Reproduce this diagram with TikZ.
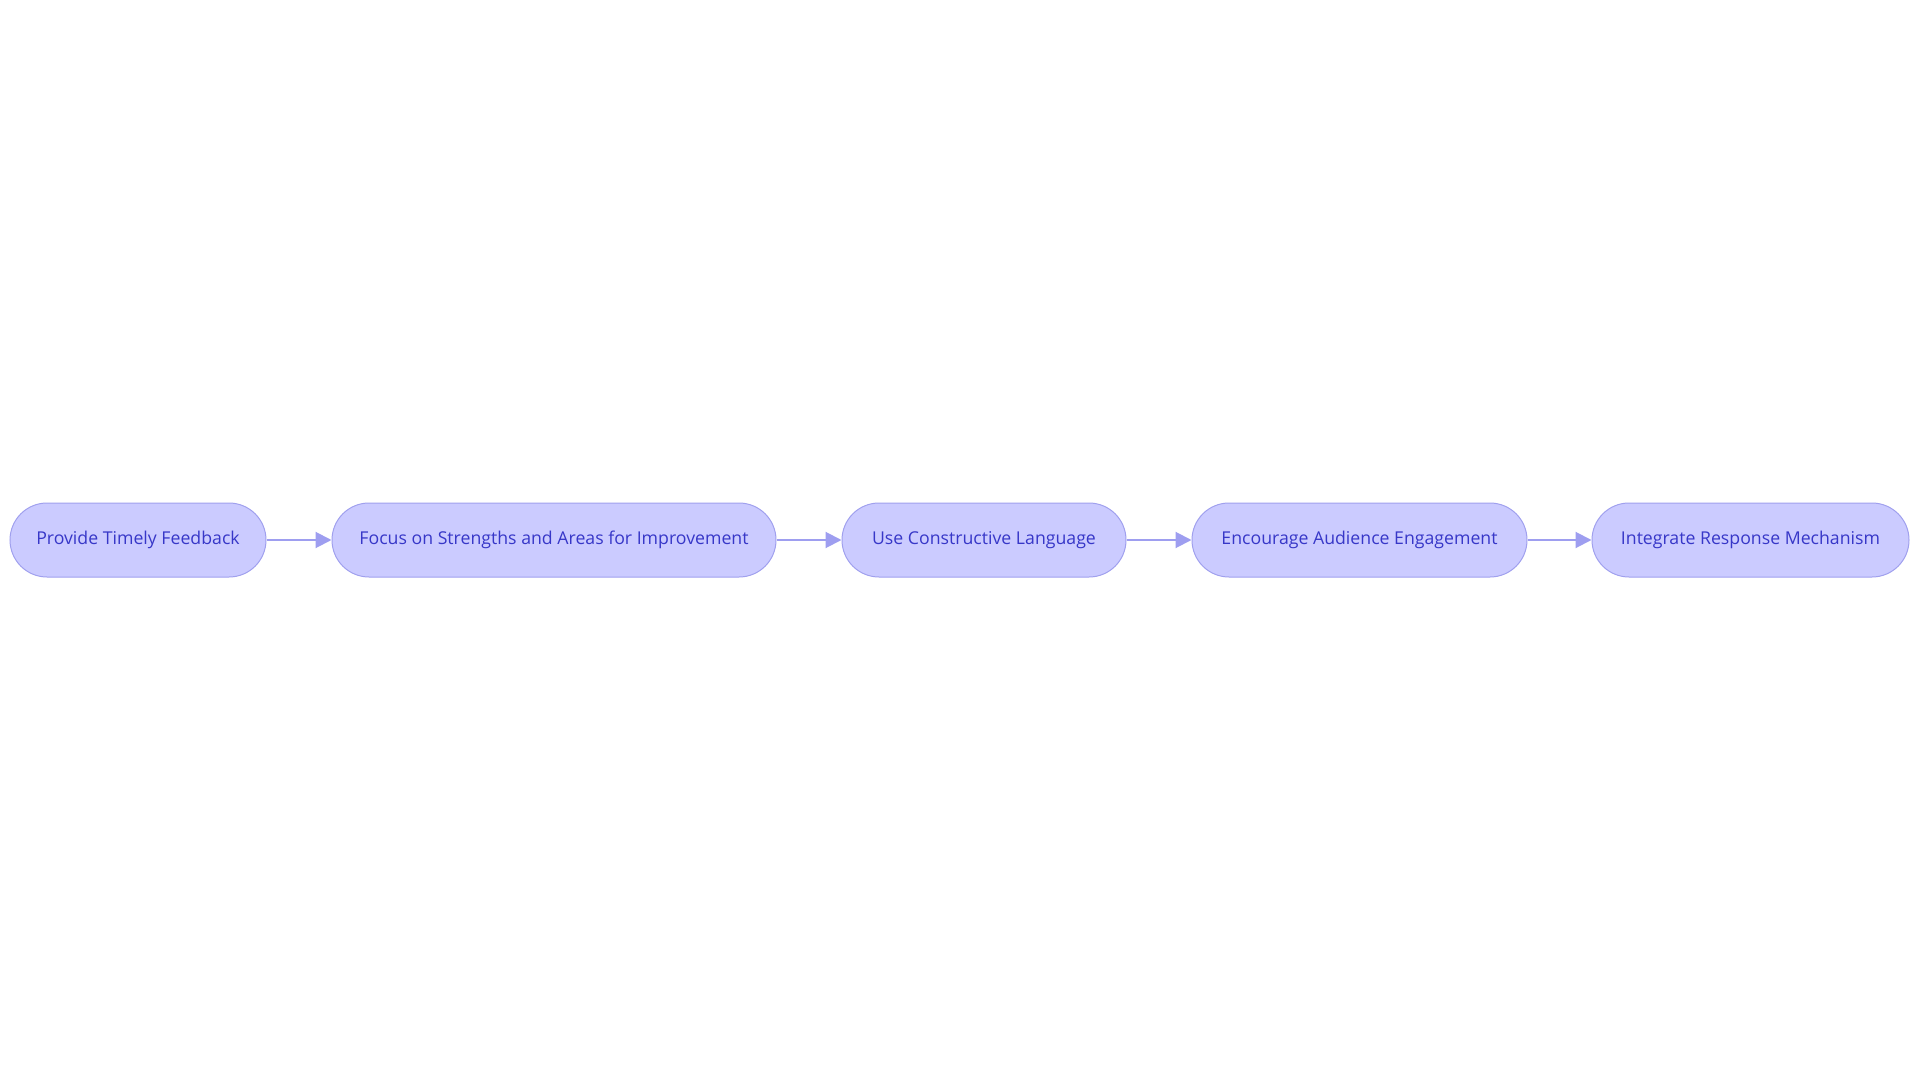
\documentclass[tikz,border=0pt]{standalone}
\usepackage{fontspec}
\setmainfont{Open Sans}
\usetikzlibrary{arrows.meta}
\definecolor{boxfill}{RGB}{203,203,255}
\definecolor{boxline}{RGB}{160,160,238}
\definecolor{boxtext}{RGB}{55,55,200}
\definecolor{arrowcol}{RGB}{158,158,240}
\tikzset{
  stepbox/.style={draw=boxline, line width=1pt, fill=boxfill, text=boxtext,
    rounded corners=37pt, minimum height=74pt, inner sep=0pt,
    font=\fontsize{17.7}{21}\selectfont},
  flow/.style={draw=arrowcol, line width=2pt, -{Triangle[length=16pt,width=16pt]}}
}
\begin{document}
\begin{tikzpicture}[x=1pt,y=1pt]
\useasboundingbox (0,0) rectangle (1920,-1083);
\node[stepbox, minimum width=256pt] (n1) at (138,-540) {Provide Timely Feedback};
\node[stepbox, minimum width=444pt] (n2) at (554,-540) {Focus on Strengths and Areas for Improvement};
\node[stepbox, minimum width=284pt] (n3) at (984,-540) {Use Constructive Language};
\node[stepbox, minimum width=335pt] (n4) at (1359.5,-540) {Encourage Audience Engagement};
\node[stepbox, minimum width=317pt] (n5) at (1750.5,-540) {Integrate Response Mechanism};
\draw[flow] (n1) -- (n2);
\draw[flow] (n2) -- (n3);
\draw[flow] (n3) -- (n4);
\draw[flow] (n4) -- (n5);
\end{tikzpicture}
\end{document}
